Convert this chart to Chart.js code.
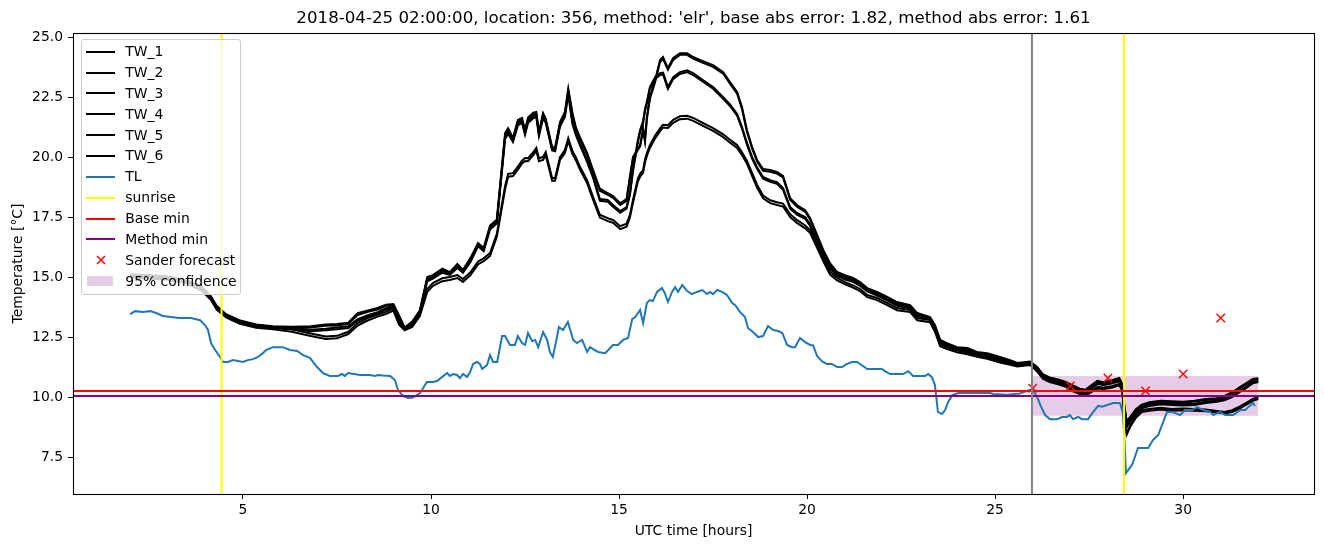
<!DOCTYPE html>
<html><head><meta charset="utf-8">
<script src="https://cdn.jsdelivr.net/npm/chart.js@4.4.1/dist/chart.umd.min.js"></script>
<style>
html,body{margin:0;padding:0;background:#fff;}
#wrap{position:relative;width:1324px;height:547px;overflow:hidden;}
canvas{position:absolute;left:0;top:0;}
#legend{position:absolute;left:81px;top:39px;width:158px;height:254px;border:1px solid #cccccc;border-radius:3px;background:rgba(255,255,255,0.8);font-family:"DejaVu Sans";font-size:13.9px;color:#000;}
#legend .s{position:absolute;left:4.3px;width:28.4px;height:2px;}
#legend .t{position:absolute;left:43.3px;line-height:17px;white-space:nowrap;}
#legend svg{position:absolute;}
#legend .p{position:absolute;left:4.7px;width:26.7px;height:9.3px;background:rgba(128,0,128,0.2);}
</style></head>
<body>
<div id="wrap">
<canvas id="c" width="1324" height="547" style="width:1324px;height:547px"></canvas>
<div id="legend"></div>
</div>
<script>
// ---------- data ----------
const title = "2018-04-25 02:00:00, location: 356, method: 'elr', base abs error: 1.82, method abs error: 1.61";
const xTicks = [5, 10, 15, 20, 25, 30];
const yTicks = [7.5, 10.0, 12.5, 15.0, 17.5, 20.0, 22.5, 25.0];

const twX = [2.0,2.5,3.0,3.5,3.9,4.15,4.3,4.55,4.9,5.35,
5.8,6.3,6.8,7.2,7.5,7.8,8.05,8.3,8.6,8.8,
9.0,9.15,9.3,9.5,9.7,9.9,10.05,10.3,10.5,10.7,
10.85,11.05,11.25,11.4,11.57,11.75,11.97,12.05,12.18,12.31,
12.42,12.5,12.58,12.72,12.8,12.87,12.98,13.05,13.22,13.3,
13.43,13.56,13.65,13.76,13.85,13.96,14.15,14.31,14.49,14.7,
14.84,15.03,15.2,15.29,15.37,15.5,15.56,15.64,15.69,15.74,
15.82,15.96,16.09,16.17,16.3,16.44,16.62,16.81,16.97,17.23,
17.5,17.77,17.95,18.14,18.27,18.4,18.54,18.67,18.83,19.02,
19.2,19.36,19.55,19.73,19.95,20.08,20.27,20.43,20.61,20.8,
21.01,21.22,21.41,21.6,21.86,22.13,22.39,22.74,22.93,23.27,
23.4,23.54,23.72,23.99,24.26,24.52,24.79,25.13,25.4,25.59,
25.93,26.12,26.27,26.45,26.7,26.9,27.07,27.25,27.4,27.55,
27.72,27.88,28.1,28.3,28.38,28.44,28.5,28.6,28.75,28.9,
29.1,29.4,29.7,30.0,30.3,30.6,30.9,31.1,31.3,31.5,
31.7,31.85,32.0];

const TW_1 = [15.12,15.08,15.02,14.88,14.6,14.2,13.8,13.45,13.2,13.02,
12.95,12.93,12.95,13.02,13.04,13.1,13.5,13.6,13.72,13.85,
13.88,13.4,12.9,13.15,13.6,15.0,15.08,15.35,15.2,15.55,
15.3,15.8,16.42,16.22,17.15,17.4,21.0,21.2,20.8,21.55,
21.63,21.13,21.65,21.85,21.88,21.04,21.83,21.6,20.42,20.4,
21.46,21.88,22.85,21.85,21.25,20.83,20.17,19.46,18.68,18.5,
18.38,18.08,18.25,19.2,20.0,20.35,20.5,21.21,20.71,21.67,
22.5,23.21,24.04,24.17,23.71,24.13,24.33,24.33,24.17,24.0,
23.83,23.54,23.13,22.71,22.08,21.13,20.42,19.88,19.5,19.46,
19.38,19.22,18.29,18.0,17.79,17.46,16.75,16.13,15.58,15.21,
15.08,14.96,14.79,14.54,14.38,14.17,13.96,13.83,13.5,13.33,
13.0,12.38,12.25,12.08,12.04,11.88,11.83,11.67,11.54,11.42,
11.48,11.25,10.95,10.82,10.72,10.62,10.48,10.35,10.3,10.48,
10.68,10.62,10.7,10.8,10.55,9.6,9.0,9.2,9.5,9.68,
9.78,9.85,9.82,9.8,9.85,9.92,9.95,10.05,10.2,10.4,
10.6,10.75,10.78];

const TW_2 = [15.06,15.03,14.97,14.83,14.55,14.15,13.74,13.4,13.15,12.98,
12.9,12.88,12.9,12.97,12.98,13.05,13.42,13.54,13.66,13.8,
13.82,13.33,12.86,13.1,13.52,14.92,15.01,15.28,15.13,15.48,
15.24,15.72,16.36,16.15,17.08,17.33,20.9,21.12,20.74,21.47,
21.56,21.06,21.57,21.78,21.8,20.98,21.76,21.53,20.36,20.34,
21.38,21.8,22.76,21.76,21.18,20.75,20.1,19.38,18.6,18.43,
18.3,18.0,18.17,19.1,19.9,20.3,20.45,21.1,20.65,21.58,
22.42,23.13,23.96,24.09,23.64,24.05,24.26,24.26,24.1,23.93,
23.76,23.47,23.06,22.64,22.0,21.06,20.35,19.81,19.43,19.39,
19.31,19.15,18.22,17.93,17.72,17.4,16.68,16.07,15.52,15.16,
15.02,14.9,14.73,14.48,14.32,14.11,13.9,13.78,13.45,13.29,
12.95,12.33,12.2,12.03,11.99,11.84,11.78,11.62,11.5,11.38,
11.44,11.21,10.91,10.78,10.68,10.58,10.44,10.31,10.26,10.44,
10.64,10.58,10.66,10.76,10.5,9.54,8.94,9.15,9.45,9.64,
9.74,9.81,9.78,9.76,9.81,9.88,9.91,10.0,10.15,10.35,
10.55,10.7,10.74];

const TW_3 = [15.1,15.05,15.0,14.85,14.55,14.15,13.75,13.42,13.17,13.0,
12.92,12.88,12.8,12.85,12.9,12.95,13.25,13.4,13.55,13.7,
13.8,13.3,12.88,13.05,13.55,14.9,15.0,15.25,15.15,15.45,
15.25,15.7,16.35,16.15,17.05,17.3,20.85,21.05,20.7,21.4,
21.5,21.0,21.5,21.7,21.75,20.95,21.7,21.5,20.35,20.3,
21.35,21.75,22.7,21.45,21.0,20.58,19.88,19.21,18.25,18.21,
18.0,17.75,17.92,18.5,19.5,20.7,21.13,21.5,22.0,22.3,
22.92,23.33,23.5,23.52,22.92,23.33,23.54,23.62,23.5,23.21,
22.92,22.5,22.2,21.8,21.25,20.6,20.0,19.58,19.17,19.04,
18.96,18.71,17.92,17.67,17.5,17.2,16.5,15.95,15.4,15.1,
14.95,14.85,14.68,14.45,14.28,14.08,13.85,13.75,13.42,13.28,
12.9,12.3,12.15,12.0,11.95,11.82,11.75,11.6,11.48,11.38,
11.44,11.2,10.9,10.76,10.66,10.56,10.4,10.27,10.22,10.38,
10.58,10.54,10.6,10.7,10.45,9.45,8.8,9.05,9.38,9.58,
9.68,9.75,9.72,9.7,9.72,9.8,9.85,9.92,10.05,10.25,
10.45,10.62,10.68];

const TW_4 = [15.05,15.0,14.95,14.8,14.5,14.1,13.7,13.37,13.12,12.95,
12.87,12.83,12.74,12.78,12.83,12.88,13.18,13.34,13.49,13.64,
13.74,13.24,12.84,13.0,13.48,14.82,14.93,15.18,15.09,15.38,
15.18,15.63,16.28,16.08,16.98,17.23,20.75,20.97,20.63,21.32,
21.42,20.93,21.42,21.62,21.67,20.88,21.62,21.43,20.28,20.24,
21.27,21.67,22.6,21.38,20.92,20.5,19.8,19.13,18.18,18.14,
17.93,17.68,17.85,18.42,19.4,20.6,21.05,21.42,21.92,22.22,
22.84,23.25,23.42,23.44,22.84,23.25,23.46,23.54,23.42,23.14,
22.85,22.43,22.13,21.73,21.18,20.53,19.93,19.51,19.1,18.97,
18.89,18.64,17.85,17.6,17.43,17.13,16.44,15.89,15.34,15.05,
14.9,14.8,14.63,14.4,14.23,14.03,13.8,13.7,13.37,13.24,
12.85,12.25,12.1,11.96,11.91,11.78,11.71,11.56,11.44,11.34,
11.4,11.16,10.86,10.72,10.62,10.52,10.36,10.23,10.18,10.34,
10.54,10.5,10.56,10.66,10.4,9.4,8.74,9.0,9.33,9.53,
9.63,9.7,9.67,9.65,9.67,9.75,9.8,9.87,10.0,10.2,
10.4,10.57,10.63];

const TW_5 = [15.05,15.0,14.95,14.8,14.5,14.1,13.7,13.38,13.12,12.95,
12.9,12.82,12.65,12.52,12.55,12.72,13.08,13.28,13.45,13.55,
13.7,13.1,12.85,13.0,13.45,14.5,14.75,14.95,15.0,15.08,
14.92,15.2,15.65,15.78,16.0,16.8,18.8,19.3,19.33,19.6,
19.85,19.96,19.95,20.2,20.38,19.95,20.0,20.21,19.13,19.13,
20.0,20.29,20.79,20.25,20.0,19.6,19.04,18.33,17.6,17.45,
17.38,17.12,17.22,17.6,18.21,19.1,19.3,19.46,19.9,20.17,
20.5,20.9,21.2,21.35,21.33,21.55,21.7,21.72,21.63,21.42,
21.21,20.95,20.72,20.5,20.2,19.85,19.33,18.85,18.4,18.2,
18.12,18.06,17.62,17.38,17.15,16.96,16.33,15.79,15.21,14.96,
14.79,14.65,14.5,14.25,14.13,13.92,13.71,13.63,13.29,13.21,
12.8,12.2,12.08,11.95,11.85,11.75,11.66,11.5,11.4,11.33,
11.4,11.12,10.82,10.68,10.58,10.48,10.3,10.18,10.12,10.25,
10.42,10.4,10.45,10.55,10.35,9.2,8.48,8.85,9.22,9.45,
9.5,9.55,9.5,9.52,9.5,9.48,9.42,9.38,9.45,9.6,
9.78,9.92,10.0];

const TW_6 = [14.98,14.94,14.89,14.74,14.44,14.04,13.64,13.32,13.06,12.89,
12.82,12.72,12.54,12.42,12.45,12.62,12.98,13.18,13.36,13.46,
13.6,13.02,12.78,12.92,13.36,14.38,14.63,14.83,14.88,14.96,
14.8,15.08,15.53,15.66,15.88,16.68,18.66,19.18,19.21,19.48,
19.73,19.84,19.83,20.08,20.26,19.83,19.88,20.09,19.01,19.01,
19.88,20.17,20.67,20.13,19.88,19.48,18.92,18.21,17.48,17.33,
17.26,17.0,17.1,17.48,18.09,18.98,19.18,19.34,19.78,20.05,
20.38,20.78,21.08,21.23,21.21,21.43,21.58,21.6,21.51,21.3,
21.09,20.83,20.6,20.38,20.08,19.73,19.21,18.73,18.28,18.08,
18.0,17.94,17.5,17.26,17.03,16.84,16.21,15.67,15.1,14.86,
14.7,14.56,14.41,14.16,14.04,13.83,13.62,13.54,13.2,13.12,
12.72,12.12,12.0,11.87,11.78,11.68,11.59,11.44,11.34,11.27,
11.34,11.06,10.76,10.62,10.52,10.42,10.24,10.12,10.06,10.19,
10.36,10.34,10.39,10.49,10.28,9.12,8.44,8.78,9.15,9.38,
9.43,9.48,9.43,9.45,9.43,9.41,9.36,9.32,9.38,9.52,
9.7,9.84,9.92];

const tlX = [2.0,2.13,2.34,2.53,2.69,2.87,3.14,3.32,3.62,3.86,
3.99,4.07,4.15,4.26,4.39,4.47,4.6,4.73,5.0,5.13,
5.27,5.4,5.53,5.61,5.8,6.06,6.25,6.44,6.6,6.78,
6.97,7.13,7.31,7.53,7.63,7.71,7.79,8.11,8.38,8.51,
8.59,8.72,8.91,9.04,9.12,9.26,9.39,9.52,9.71,9.89,
10.05,10.16,10.29,10.43,10.5,10.59,10.69,10.77,10.85,10.96,
11.04,11.12,11.22,11.3,11.36,11.49,11.57,11.65,11.76,11.89,
11.97,12.1,12.23,12.31,12.42,12.5,12.58,12.69,12.77,12.85,
12.98,13.09,13.16,13.24,13.35,13.4,13.51,13.64,13.78,13.88,
14.02,14.15,14.23,14.31,14.44,14.63,14.84,14.97,15.11,15.24,
15.35,15.43,15.56,15.64,15.74,15.82,15.9,16.01,16.14,16.22,
16.3,16.41,16.49,16.57,16.68,16.81,16.94,17.07,17.21,17.34,
17.42,17.5,17.61,17.74,17.87,18.01,18.09,18.22,18.35,18.43,
18.56,18.7,18.83,18.96,19.1,19.23,19.34,19.47,19.6,19.68,
19.81,19.95,20.08,20.16,20.27,20.4,20.53,20.66,20.8,20.93,
21.06,21.2,21.33,21.6,21.76,21.99,22.07,22.21,22.39,22.55,
22.69,22.82,23.01,23.14,23.22,23.32,23.4,23.48,23.59,23.67,
23.75,23.86,24.02,24.5,24.87,24.95,25.32,25.66,25.98,26.12,
26.2,26.33,26.46,26.65,26.78,26.91,26.99,27.07,27.21,27.31,
27.47,27.61,27.74,27.85,27.98,28.14,28.32,28.4,28.44,28.48,
28.64,28.8,29.07,29.2,29.34,29.57,29.71,29.92,30.05,30.24,
30.37,30.53,30.72,30.8,30.98,31.12,31.33,31.52,31.65,31.73,
31.86,31.91];

const tlY = [13.46,13.58,13.54,13.58,13.5,13.38,13.33,13.29,13.29,13.2,
13.0,12.8,12.25,11.96,11.67,11.46,11.46,11.54,11.46,11.54,
11.58,11.67,11.83,11.96,12.08,12.08,11.96,11.92,11.75,11.63,
11.25,11.0,10.88,10.88,10.96,10.88,11.0,10.92,10.92,10.88,
10.92,10.9,10.88,10.71,10.3,10.04,9.96,9.98,10.17,10.63,
10.63,10.67,10.83,11.0,10.88,10.96,10.92,10.79,10.96,10.83,
11.04,11.38,11.46,11.38,11.17,11.33,11.75,11.46,11.46,12.54,
12.54,12.17,12.17,12.54,12.25,12.17,12.67,12.33,12.38,12.08,
12.71,12.38,11.88,11.67,12.5,12.92,12.79,13.13,12.38,12.25,
12.38,11.88,12.08,12.0,11.88,11.83,12.17,12.17,12.38,12.46,
13.25,13.33,13.63,13.08,13.92,14.04,14.0,14.38,14.54,14.33,
13.96,14.38,14.58,14.38,14.67,14.42,14.29,14.38,14.46,14.29,
14.38,14.29,14.46,14.38,14.25,13.92,13.83,13.54,13.33,12.88,
12.71,12.5,12.54,12.96,12.79,12.75,12.67,12.17,12.08,12.08,
12.46,12.29,12.17,12.15,11.7,11.48,11.38,11.38,11.25,11.25,
11.38,11.46,11.46,11.17,11.17,11.17,11.08,10.96,10.96,10.96,
11.08,10.88,10.88,10.88,10.96,10.83,10.5,9.38,9.29,9.46,
9.79,10.08,10.17,10.17,10.17,10.13,10.1,10.15,10.33,10.0,
9.67,9.25,9.08,9.08,9.17,9.17,9.25,9.08,9.17,9.08,
9.08,9.38,9.63,9.6,9.67,9.75,9.75,9.33,8.2,6.83,
7.17,7.88,7.88,8.21,8.42,9.38,9.38,9.25,9.46,9.46,
9.58,9.46,9.38,9.25,9.38,9.25,9.25,9.46,9.46,9.58,
9.75,9.63];

const sunriseX = [4.43, 28.43];
const forecastTimeX = 25.98;
const baseMin = 10.25;
const methodMin = 10.04;
const sanderX = [26, 27, 28, 29, 30, 31];
const sanderY = [10.37, 10.46, 10.79, 10.25, 10.96, 13.29];
const confX = [26, 32];
const confLow = [9.22, 9.22];
const confHigh = [10.875, 10.875];

const xMin = 0.48, xMax = 33.48;
const yMin = 5.96, yMax = 25.17;

// ---------- chart ----------
const pts = (xs, ys) => xs.map((x, i) => ({x: x, y: ys[i]}));
const datasets = [];
function add(d) { d.order = 100 - datasets.length; datasets.push(d); }
const lineBase = {pointRadius: 0, pointHoverRadius: 0, tension: 0, fill: false};
[TW_1, TW_2, TW_3, TW_4, TW_5, TW_6].forEach((arr, k) => {
  add(Object.assign({}, lineBase, {label: 'TW_' + (k + 1), data: pts(twX, arr), borderColor: '#000000', borderWidth: 2}));
});
add(Object.assign({}, lineBase, {label: 'TL', data: pts(tlX, tlY), borderColor: '#1f77b4', borderWidth: 2}));
sunriseX.forEach((sx, k) => {
  add(Object.assign({}, lineBase, {label: k === 0 ? 'sunrise' : '', data: [{x: sx, y: yMin}, {x: sx, y: yMax}], borderColor: '#ffff00', borderWidth: 2}));
});
add(Object.assign({}, lineBase, {label: 'Base min', data: [{x: xMin, y: baseMin}, {x: xMax, y: baseMin}], borderColor: '#ff0000', borderWidth: 2}));
add(Object.assign({}, lineBase, {label: 'Method min', data: [{x: xMin, y: methodMin}, {x: xMax, y: methodMin}], borderColor: '#800080', borderWidth: 2}));
add({label: 'Sander forecast', data: pts(sanderX, sanderY), showLine: false, pointStyle: 'crossRot', pointRadius: 6, pointHoverRadius: 6, borderColor: '#ff0000', pointBorderWidth: 1.4, borderWidth: 1.4});
const confLowDs = Object.assign({}, lineBase, {label: '', data: pts(confX, confLow), borderWidth: 0, borderColor: 'rgba(0,0,0,0)', order: 201});
const confHighDs = Object.assign({}, lineBase, {label: '95% confidence', data: pts(confX, confHigh), borderWidth: 0, borderColor: 'rgba(0,0,0,0)', fill: '-1', backgroundColor: 'rgba(128,0,128,0.2)', order: 200});
datasets.push(confLowDs); datasets.push(confHighDs);
add(Object.assign({}, lineBase, {label: '', data: [{x: forecastTimeX, y: yMin}, {x: forecastTimeX, y: yMax}], borderColor: '#808080', borderWidth: 2}));

const spines = {
  id: 'spines',
  afterDatasetsDraw(chart) {
    const {ctx, chartArea: a} = chart;
    ctx.save();
    ctx.strokeStyle = '#000';
    ctx.lineWidth = 1.1;
    ctx.strokeRect(a.left + 0.5, a.top + 0.5, a.right - a.left, a.bottom - a.top);
    ctx.restore();
  }
};

Chart.defaults.font.family = 'DejaVu Sans';
Chart.defaults.font.size = 13.9;
Chart.defaults.color = '#000';

new Chart(document.getElementById('c'), {
  type: 'line',
  data: {datasets: datasets},
  plugins: [spines],
  options: {
    responsive: false,
    devicePixelRatio: 1,
    animation: false,
    events: [],
    layout: {padding: {left: 0, right: 10, top: 0, bottom: 0}},
    plugins: {
      legend: {display: false},
      tooltip: {enabled: false},
      title: {display: true, text: title, fullSize: false, color: '#000',
        font: {family: 'DejaVu Sans', size: 16.67, weight: 'normal'},
        padding: {top: 9, bottom: 4}}
    },
    scales: {
      x: {
        type: 'linear', min: xMin, max: xMax,
        afterBuildTicks: s => { s.ticks = xTicks.map(v => ({value: v})); },
        afterFit: s => { s.height = 53; },
        ticks: {padding: 3.5, maxRotation: 0, autoSkip: false, callback: v => String(v), font: {size: 13.9}},
        grid: {display: true, drawOnChartArea: false, drawTicks: true, tickLength: 5, tickColor: '#000', tickWidth: 1},
        border: {display: false},
        title: {display: true, text: 'UTC time [hours]', font: {size: 13.9}, padding: {top: 0, bottom: 7.5}}
      },
      y: {
        type: 'linear', min: yMin, max: yMax,
        afterBuildTicks: s => { s.ticks = yTicks.map(v => ({value: v})); },
        afterFit: s => { s.width = 73; },
        ticks: {padding: 5, autoSkip: false, callback: v => Number(v).toFixed(1), font: {size: 13.9}},
        grid: {display: true, drawOnChartArea: false, drawTicks: true, tickLength: 5, tickColor: '#000', tickWidth: 1},
        border: {display: false},
        title: {display: true, text: 'Temperature [°C]', font: {size: 13.9}, padding: {top: 9.7, bottom: 0}}
      }
    }
  }
});

// ---------- legend (HTML text) ----------
const legendEntries = [
  {label: 'TW_1', kind: 'line', color: '#000000'},
  {label: 'TW_2', kind: 'line', color: '#000000'},
  {label: 'TW_3', kind: 'line', color: '#000000'},
  {label: 'TW_4', kind: 'line', color: '#000000'},
  {label: 'TW_5', kind: 'line', color: '#000000'},
  {label: 'TW_6', kind: 'line', color: '#000000'},
  {label: 'TL', kind: 'line', color: '#1f77b4'},
  {label: 'sunrise', kind: 'line', color: '#ffff00'},
  {label: 'Base min', kind: 'line', color: '#ff0000'},
  {label: 'Method min', kind: 'line', color: '#800080'},
  {label: 'Sander forecast', kind: 'x', color: '#ff0000'},
  {label: '95% confidence', kind: 'patch', color: 'rgba(128,0,128,0.2)'}
];
const leg = document.getElementById('legend');
legendEntries.forEach((e, i) => {
  const cy = 11.7 + 20.85 * i;
  if (e.kind === 'line') {
    const s = document.createElement('div'); s.className = 's';
    s.style.top = (cy - 1) + 'px'; s.style.background = e.color; leg.appendChild(s);
  } else if (e.kind === 'x') {
    const ns = 'http://www.w3.org/2000/svg';
    const svg = document.createElementNS(ns, 'svg');
    svg.setAttribute('width', '10'); svg.setAttribute('height', '10');
    svg.style.left = (18.5 - 5) + 'px'; svg.style.top = (cy - 5) + 'px';
    [[1, 1, 9, 9], [1, 9, 9, 1]].forEach(c => {
      const l = document.createElementNS(ns, 'line');
      l.setAttribute('x1', c[0]); l.setAttribute('y1', c[1]); l.setAttribute('x2', c[2]); l.setAttribute('y2', c[3]);
      l.setAttribute('stroke', e.color); l.setAttribute('stroke-width', '1.4');
      svg.appendChild(l);
    });
    leg.appendChild(svg);
  } else {
    const p = document.createElement('div'); p.className = 'p';
    p.style.top = (cy - 4.65) + 'px'; leg.appendChild(p);
  }
  const t = document.createElement('div'); t.className = 't';
  t.style.top = (cy - 8.5) + 'px'; t.textContent = e.label; leg.appendChild(t);
});
</script>
</body></html>
